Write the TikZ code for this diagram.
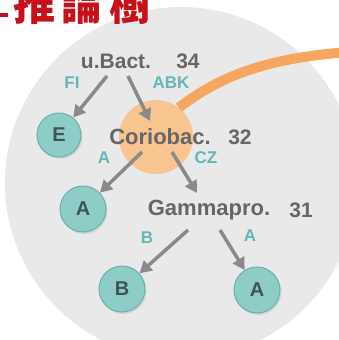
\documentclass[tikz,border=0pt]{standalone}
\usepackage{fontspec}
\setmainfont{Liberation Sans}
\newfontfamily\cjk{Noto Sans CJK TC}
\usetikzlibrary{arrows.meta,shadows}
\definecolor{bggray}{HTML}{E9E9EA}
\definecolor{txtgray}{HTML}{666666}
\definecolor{lblteal}{HTML}{62B8B5}
\definecolor{tealfill}{HTML}{8ECCC8}
\definecolor{tealedge}{HTML}{6AB0AB}
\definecolor{tealtxt}{HTML}{3B5755}
\definecolor{peach}{HTML}{F8C490}
\definecolor{orangeline}{HTML}{F6A65E}
\definecolor{arrowgray}{HTML}{8A8A8A}
\definecolor{titlered}{HTML}{C8101A}
\begin{document}
\begin{tikzpicture}[x=1pt,y=-1pt,
  taxon/.style={font=\fontsize{21}{21}\selectfont\bfseries, text=txtgray, inner sep=0pt},
  lbl/.style={font=\fontsize{17}{17}\selectfont\bfseries, text=lblteal, inner sep=0pt},
  leaf/.style={circle, fill=tealfill, draw=tealedge, line width=1pt, minimum size=46pt, inner sep=0pt,
    font=\fontsize{20}{20}\selectfont\bfseries, text=tealtxt,
    drop shadow={opacity=0.2, shadow xshift=1.5pt, shadow yshift=-2pt}},
  arr/.style={draw=arrowgray, line width=3.5pt, -{Triangle[length=12pt,width=13pt]}}]
\useasboundingbox (0,0) rectangle (339,340);
\fill[white] (0,0) rectangle (339,340);
% background disc
\fill[bggray] (181,183) circle (176pt);
% title
\fill[titlered] (0,13) rectangle (8,17);
\node[font=\cjk\fontsize{42}{42}\selectfont\bfseries, text=titlered, anchor=base west, inner sep=0pt]
  (title) at (13,20) {推\hspace{6pt}論\hspace{6pt}樹};
% orange highlight
\coordinate (arcend) at (350,52);
\node[circle, fill=peach, minimum size=74pt, inner sep=0pt] (oc) at (156,137) {};
\draw[orangeline, line width=10pt] (oc.52) .. controls (215,80) and (260,58) .. (arcend);
% taxa
\node[taxon] (ubact) at (116,61) {u.Bact.};
\node[taxon] (n34) at (188,61) {34};
\node[taxon, font=\fontsize{22}{22}\selectfont\bfseries] (corio) at (160,137) {Coriobac.};
\node[taxon] (n32) at (240,137) {32};
\node[taxon, font=\fontsize{22}{22}\selectfont\bfseries] (gamma) at (209,210) {Gammapro.};
\node[taxon] (n31) at (301,210) {31};
% leaves
\node[leaf, minimum size=44pt] (E) at (59,135) {E};
\node[leaf] (A1) at (83,209) {A};
\node[leaf] (B) at (122,289) {B};
\node[leaf] (A2) at (257,290) {A};
% edge labels
\node[lbl] (lFI) at (72,83) {FI};
\node[lbl] (lABK) at (171,83) {ABK};
\node[lbl] (lA1) at (104,158) {A};
\node[lbl] (lCZ) at (206,158) {CZ};
\node[lbl] (lB) at (147,238) {B};
\node[lbl] (lA2) at (250,236) {A};
% arrow anchors
\coordinate (s1) at (107,76);
\coordinate (s2) at (128,76);
\coordinate (t2) at (150,121);
\coordinate (s3) at (142,152);
\coordinate (s4) at (172,152);
\coordinate (t4) at (197,193);
\coordinate (s5) at (188,230);
\coordinate (s6) at (220,230);
% arrows
\draw[arr] (s1) -- (E);
\draw[arr] (s2) -- (t2);
\draw[arr] (s3) -- (A1);
\draw[arr] (s4) -- (t4);
\draw[arr] (s5) -- (B);
\draw[arr] (s6) -- (A2);
\end{tikzpicture}
\end{document}
